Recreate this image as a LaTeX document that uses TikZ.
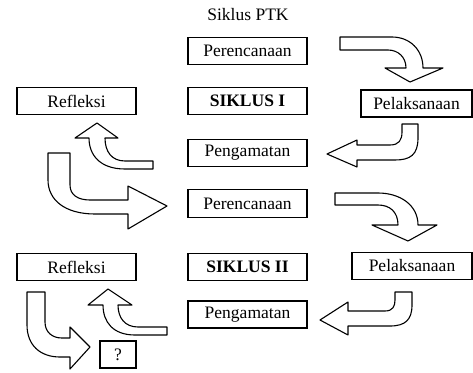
\documentclass[tikz,border=0pt]{standalone}
\usepackage{fontspec}
\setmainfont{Liberation Serif}
\usepackage{tikz}
\usetikzlibrary{positioning}
\tikzset{
    base/.style={draw, line width=1.2pt, align=center, inner sep=0pt, minimum height=27pt, font=\fontsize{17.5}{20}\selectfont},
    box/.style={base, rectangle, minimum width=119pt},
    smallbox/.style={base, rectangle, minimum width=36pt},
    blockarrow/.style={draw, fill=white, line width=1.1pt, line join=round}
}

\begin{document}
\begin{tikzpicture}[x=1pt, y=-1pt]
    \useasboundingbox (0,0) rectangle (473,372);
    % Nodes
    \node [font=\fontsize{17.5}{20}\selectfont] (title) at (248,15) {Siklus PTK};

    \node [box] (pren1) at (247.5,51) {Perencanaan};
    \node [box] (siklus1) at (247.5,101) {\textbf{SIKLUS I}};
    \node [box] (peng1) at (247.5,153) {Pengamatan};
    \node [box] (ref1) at (76.5,101) {Refleksi};
    \node [box, minimum width=111pt] (pel1) at (416.5,103.5) {Pelaksanaan};

    \node [box, minimum height=28pt] (pren2) at (247.5,203.5) {Perencanaan};
    \node [box] (siklus2) at (247.5,267) {\textbf{SIKLUS II}};
    \node [box] (peng2) at (247.5,314.5) {Pengamatan};
    \node [box] (ref2) at (76.5,267) {Refleksi};
    \node [box, minimum width=120pt] (pel2) at (412,266) {Pelaksanaan};
    \node [smallbox] (q) at (118,354.5) {?};

    % Block arrows, cycle I
    \path [blockarrow] (340,37) -- (392,37) .. controls (410,37) and (423,50) .. (423,68)
        -- (443,68) -- (410,82) -- (385,68) -- (406,68)
        .. controls (406,57) and (398,50) .. (388,50) -- (340,50) -- cycle;
    \path [blockarrow] (402,124) -- (418,124) -- (418,138) .. controls (418,155) and (410,160) .. (395,160)
        -- (357,160) -- (357,167) -- (327,154) -- (357,140) -- (357,145) -- (390,145)
        .. controls (399,145) and (402,140) .. (402,132) -- cycle;
    \path [blockarrow] (153,169) -- (125,169) .. controls (100,169) and (89,155) .. (89,138)
        -- (75,138) -- (97,123) -- (118,138) -- (105,138)
        .. controls (105,152) and (112,161) .. (125,161) -- (153,161) -- cycle;

    % Block arrow, to cycle II
    \path [blockarrow] (48,153) -- (70,153) -- (70,185) .. controls (70,195) and (78,200) .. (90,200)
        -- (128,200) -- (128,186) -- (167,206) -- (128,229) -- (128,214) -- (95,214)
        .. controls (65,214) and (48,200) .. (48,180) -- cycle;

    % Block arrows, cycle II
    \path [blockarrow] (335,193) -- (378,193) .. controls (400,193) and (418,205) .. (418,225)
        -- (437,225) -- (408,241) -- (372,225) -- (398,225)
        .. controls (398,212) and (390,205) .. (378,205) -- (335,205) -- cycle;
    \path [blockarrow] (395,292) -- (412,292) -- (412,305) .. controls (412,320) and (405,326) .. (390,326)
        -- (348,326) -- (348,335) -- (320,320) -- (348,302) -- (348,311) -- (385,311)
        .. controls (393,311) and (395,306) .. (395,300) -- cycle;
    \path [blockarrow] (167,335) -- (135,335) .. controls (113,335) and (103,322) .. (103,305)
        -- (88,305) -- (108,289) -- (132,305) -- (118,305)
        .. controls (118,318) and (125,327) .. (138,327) -- (167,327) -- cycle;
    \path [blockarrow] (27,292) -- (45,292) -- (45,322) .. controls (45,332) and (52,338) .. (62,338)
        -- (70,338) -- (70,327) -- (90,347) -- (70,369) -- (70,357) -- (60,357)
        .. controls (40,357) and (27,345) .. (27,325) -- cycle;
\end{tikzpicture}
\end{document}
